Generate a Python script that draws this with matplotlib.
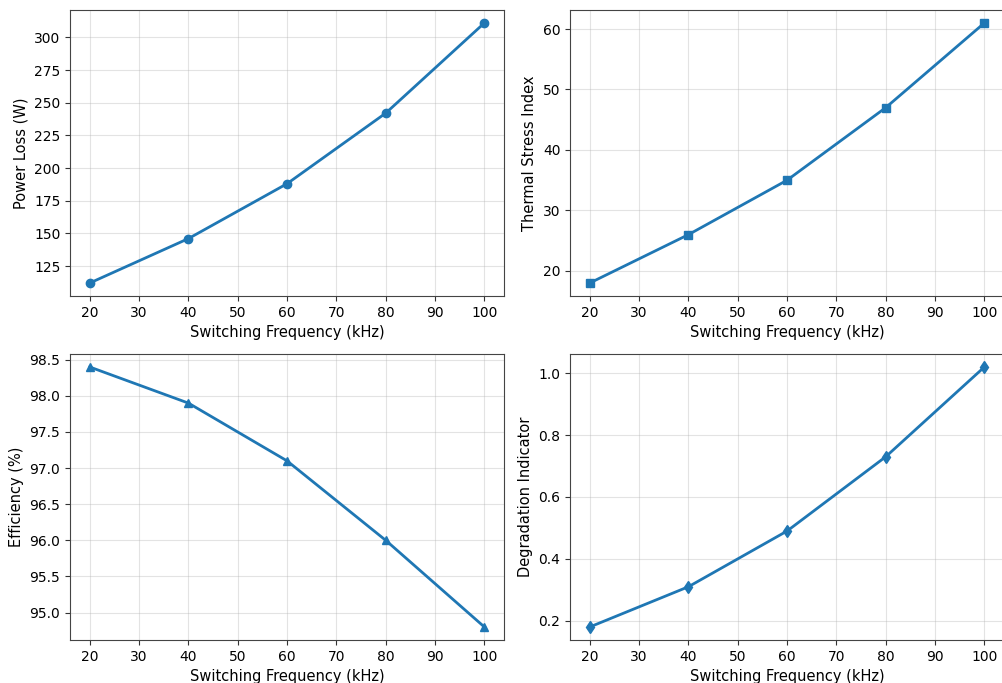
import numpy as np
import matplotlib
matplotlib.use('Agg')
import matplotlib.pyplot as plt

freq = [20, 40, 60, 80, 100]
power_loss = [112, 146, 188, 242, 311]
thermal_stress = [18, 26, 35, 47, 61]
efficiency = [98.4, 97.9, 97.1, 96.0, 94.8]
degradation = [0.18, 0.31, 0.49, 0.73, 1.02]

panels = [
    (power_loss, 'o', 'Power Loss (W)'),
    (thermal_stress, 's', 'Thermal Stress Index'),
    (efficiency, '^', 'Efficiency (%)'),
    (degradation, 'd', 'Degradation Indicator'),
]

# axes rectangles (figure is cropped on the right like the reference)
rects = [
    [0.0699, 0.5666, 0.4332, 0.4188],
    [0.5689, 0.5666, 0.4332, 0.4188],
    [0.0699, 0.0630, 0.4332, 0.4187],
    [0.5689, 0.0630, 0.4332, 0.4187],
]

fig = plt.figure(figsize=(10.02, 6.83), dpi=100)
for i, ((vals, mk, ylab), rect) in enumerate(zip(panels, rects)):
    ax = fig.add_axes(rect)
    ax.plot(freq, vals, marker=mk, color='#1f77b4', linewidth=2, markersize=6)
    ax.set_xlabel('Switching Frequency (kHz)', fontsize=10.5)
    ax.set_ylabel(ylab, fontsize=10.5)
    ax.set_xticks(np.arange(20, 101, 10))
    ax.tick_params(labelsize=10, color='#333333')
    ax.grid(True, alpha=0.35)
    for sp in ax.spines.values():
        sp.set_color('#444444')
    if i % 2 == 1:
        # right edge falls outside the cropped picture
        ax.spines['right'].set_visible(False)

fig.savefig('out.png', dpi=100)
